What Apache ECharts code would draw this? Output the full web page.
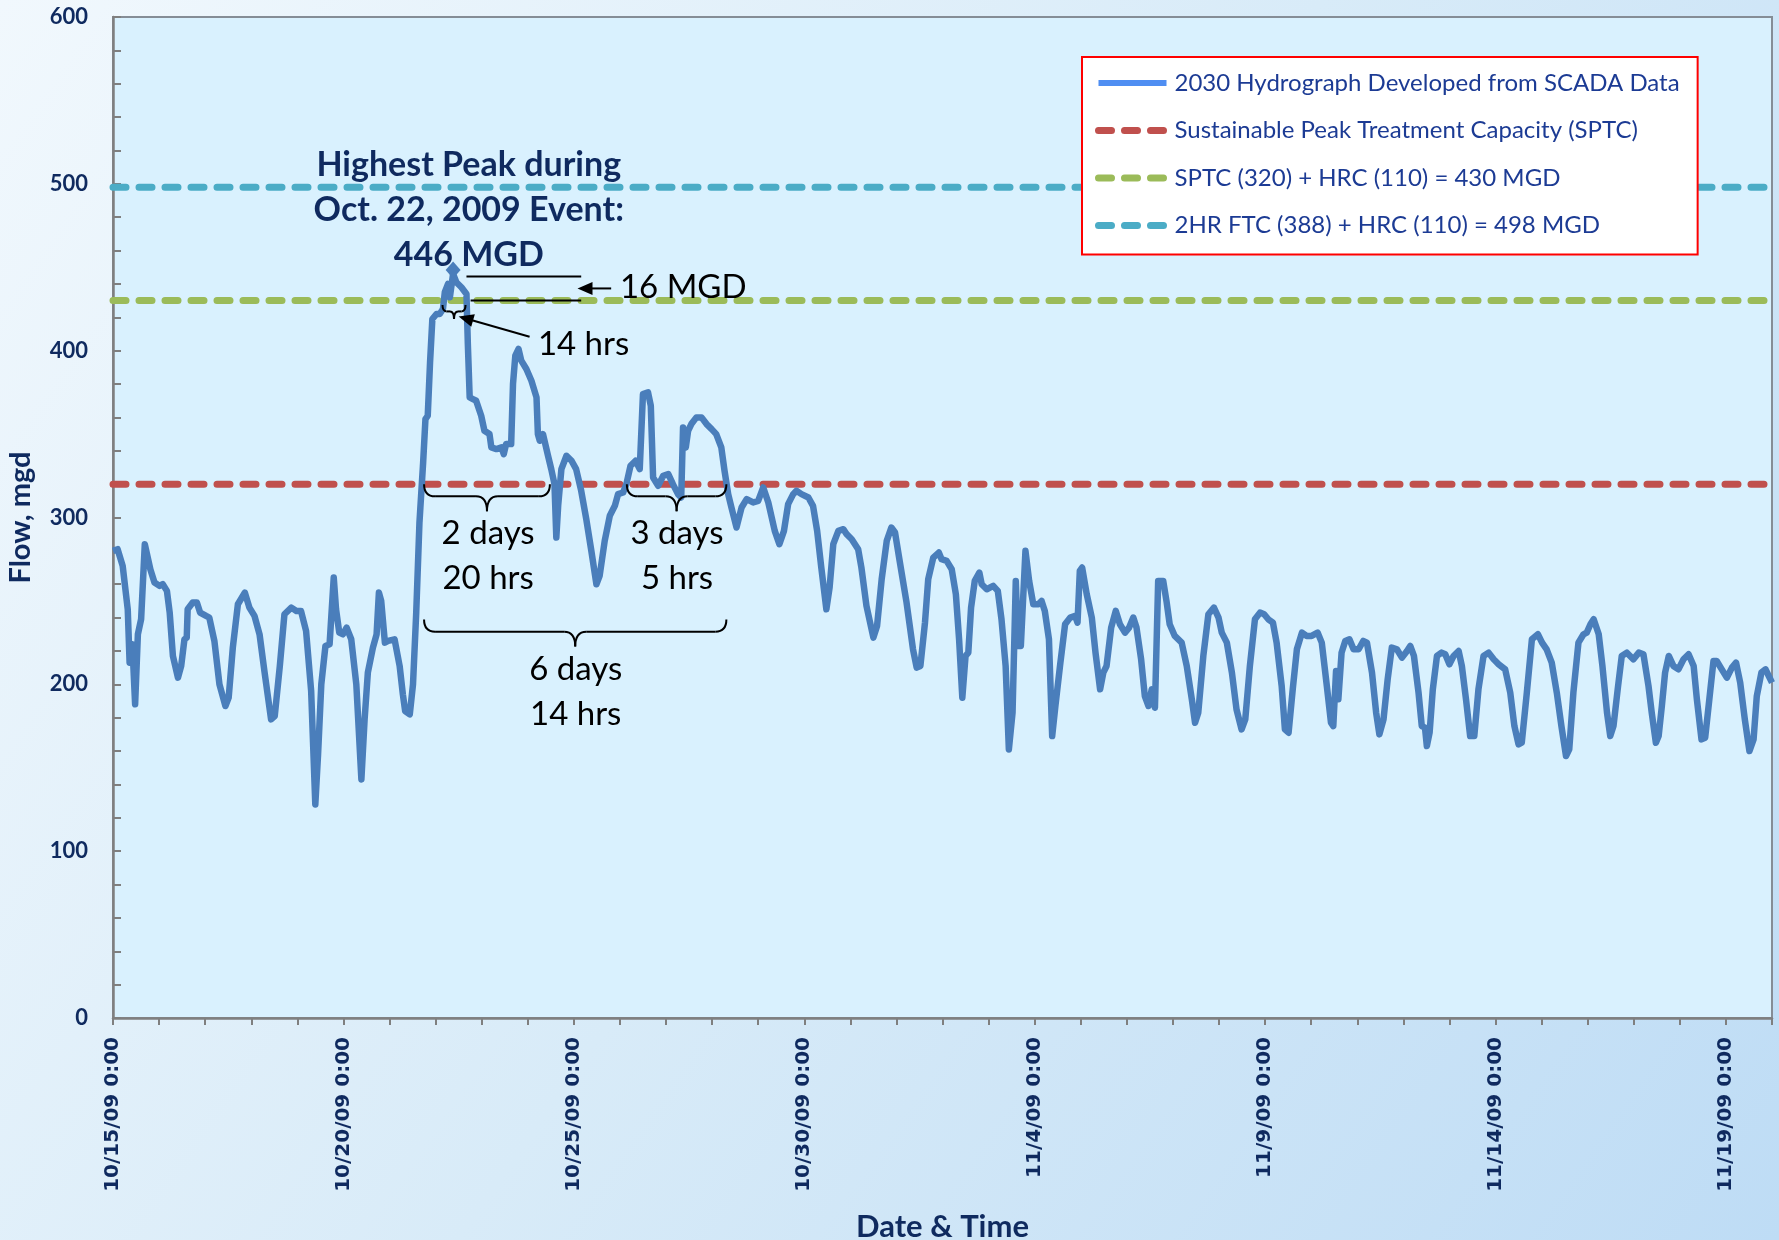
<!DOCTYPE html>
<html><head><meta charset="utf-8">
<script src="https://cdn.jsdelivr.net/npm/echarts/dist/echarts.min.js"></script>
<style>html,body{margin:0;padding:0;background:#fff}#c{width:1779px;height:1240px}</style>
</head><body><div id="c"></div>
<script>
// Time in days since 10/15/09 0:00
const days = [0.0,0.1,0.21,0.32,0.36,0.42,0.48,0.54,0.61,0.69,0.72,0.81,0.9,1.01,1.08,1.17,1.23,1.3,1.41,1.48,1.55,1.6,1.62,1.73,1.82,1.89,2.02,2.09,2.2,2.31,2.44,2.51,2.6,2.71,2.86,2.96,3.07,3.18,3.29,3.43,3.51,3.62,3.72,3.87,3.98,4.08,4.19,4.3,4.39,4.45,4.52,4.61,4.7,4.79,4.84,4.91,4.99,5.07,5.17,5.28,5.39,5.46,5.53,5.64,5.72,5.77,5.82,5.9,
5.97,6.11,6.22,6.29,6.34,6.44,6.51,6.58,6.65,6.73,6.78,6.83,6.88,6.93,7.02,7.09,7.16,7.2,7.27,7.31,7.38,7.45,7.56,7.67,7.7,7.74,7.81,7.88,7.99,8.06,8.17,8.21,8.32,8.43,8.48,8.53,8.64,8.68,8.73,8.8,8.86,8.97,9.08,9.19,9.22,9.26,9.33,9.44,9.51,9.58,9.62,9.66,9.73,9.84,9.95,10.05,10.16,10.27,10.38,10.49,10.56,10.67,10.78,10.89,10.96,11.07,11.14,11.23,11.34,11.43,11.5,11.61,11.67,11.72,11.83,11.94,12.05,12.15,12.26,12.33,12.37,12.43,12.48,12.55,12.66,12.77,12.88,12.99,13.09,13.2,13.27,13.35,13.42,13.53,13.64,13.75,13.89,14.0,14.11,14.22,14.36,14.46,14.56,14.65,14.76,14.83,14.94,15.09,15.19,15.28,15.37,15.48,15.55,15.63,15.74,15.85,15.92,16.03,16.17,16.24,16.35,16.5,16.58,16.68,16.79,16.89,16.97,17.07,17.22,17.36,17.44,17.52,17.62,17.69,17.8,
17.92,17.98,18.09,18.2,18.29,18.36,18.43,18.5,18.56,18.62,18.7,18.8,18.85,18.96,19.1,19.2,19.28,19.37,19.44,19.52,19.59,19.64,19.7,19.8,19.88,19.97,20.08,20.15,20.22,20.31,20.38,20.45,20.55,20.66,20.77,20.88,20.93,20.98,21.03,21.13,21.24,21.32,21.42,21.49,21.56,21.66,21.76,21.85,21.96,22.05,22.14,22.21,22.31,22.39,22.47,22.54,22.61,22.68,22.79,22.86,22.93,23.04,23.19,23.3,23.41,23.48,23.55,23.66,23.77,
23.89,23.99,24.06,24.17,24.28,24.38,24.49,24.57,24.67,24.78,24.89,24.98,25.07,25.17,25.25,25.36,25.43,25.51,25.6,25.69,25.8,25.9,26.01,26.14,26.23,26.34,26.43,26.48,26.54,26.59,26.66,26.74,26.83,26.92,27.03,27.13,27.21,27.32,27.41,27.48,27.57,27.66,27.75,27.86,27.97,28.08,28.15,28.23,28.33,28.4,28.47,28.51,28.57,28.64,28.73,28.83,28.91,29.0,29.09,29.2,29.27,29.36,29.45,29.54,29.63,29.74,
29.85,29.96,30.07,30.21,30.32,30.41,30.5,30.57,30.68,30.79,30.92,31.01,31.11,31.22,31.33,31.43,31.53,31.6,31.69,31.8,31.91,31.98,32.06,32.13,32.24,32.32,32.42,32.49,32.56,32.66,32.74,32.85,32.92,32.99,33.11,33.21,33.32,33.39,33.48,33.54,33.61,33.68,33.76,33.86,33.97,34.08,34.19,34.3,34.37,34.47,34.55,34.64,34.73,34.8,34.91,35.02,35.13,35.22,35.31,35.41,35.51,35.6,35.67,35.77,35.86,35.93,36.0];
const flow = [280,281,271,245,213,224,188,230,239,284,284,269,261,259,260,256,243,217,204,211,227,228,245,249,249,243,241,240,226,200,187,192,222,248,255,246,241,230,207,179,181,211,242,246,244,244,232,196,128,158,200,223,224,264,245,231,230,234,227,200,143,179,207,222,230,255,250,225,
226,227,211,194,184,182,200,243,297,333,359,361,393,419,422,422,425,435,440,432,446,441,438,434,404,372,371,370,361,352,350,342,341,342,338,344,344,380,397,401,394,389,382,372,350,346,350,337,329,320,288,307,329,337,334,329,316,299,280,260,265,286,301,307,314,315,320,331,334,329,374,375,367,324,319,325,326,320,314,312,354,342,352,356,360,360,356,353,350,342,328,314,306,294,306,311,309,310,318,309,292,284,292,308,314,316,314,312,307,292,270,245,258,284,292,293,290,287,281,270,247,228,235,263,286,294,291,274,249,221,210,211,237,263,276,
279,275,274,269,254,227,192,217,219,246,262,267,260,257,259,256,239,211,161,183,262,223,223,280,262,248,248,250,244,227,169,187,211,236,240,241,237,268,270,254,240,219,197,207,211,234,244,236,231,234,240,234,215,193,187,197,186,262,262,250,236,229,225,211,191,177,183,217,242,
246,240,231,225,207,185,173,179,211,239,243,242,239,237,225,199,173,171,197,221,231,229,229,231,225,199,177,175,208,191,219,226,227,221,221,226,225,207,183,170,179,203,222,221,216,220,223,217,195,175,174,163,171,197,217,219,218,212,217,220,211,191,169,169,197,217,
219,215,212,209,195,175,164,165,195,227,230,225,221,213,195,175,157,161,195,225,230,231,236,239,230,211,183,169,175,199,217,219,217,215,219,218,199,183,165,169,187,207,217,211,209,215,218,211,191,167,168,191,214,214,209,204,210,213,201,179,160,167,193,207,209,205,201];

const xTickLabels = ['10/15/09 0:00','10/20/09 0:00','10/25/09 0:00','10/30/09 0:00','11/4/09 0:00','11/9/09 0:00','11/14/09 0:00','11/19/09 0:00'];
const xRange = [0, 36];
const yRange = [0, 600];
const seriesNames = ['2030 Hydrograph Developed from SCADA Data','Sustainable Peak Treatment Capacity (SPTC)','SPTC (320) + HRC (110) = 430 MGD','2HR FTC (388) + HRC (110) = 498 MGD'];
const capacityLevels = [320, 430, 498];
const capacityColors = ['#c0504d', '#9bbb59', '#4bacc6'];

const NAVY = '#0f2a5f';
const chart = echarts.init(document.getElementById('c'), null, {renderer: 'canvas'});

const hydro = days.map((d, i) => [d, flow[i]]);
const levelSeries = capacityLevels.map((lv, i) => ({
  name: seriesNames[i + 1], type: 'line', symbol: 'none', silent: true, z: 2,
  data: [[xRange[0], lv], [xRange[1], lv]],
  lineStyle: {color: capacityColors[i], width: 7, type: [13, 13], cap: 'round'},
  itemStyle: {color: capacityColors[i]}
}));

const option = {
  animation: false,
  backgroundColor: new echarts.graphic.LinearGradient(0, 0, 1, 1, [
    {offset: 0, color: '#f1f8fd'}, {offset: 0.5, color: '#d8ebf8'}, {offset: 1, color: '#bedcf5'}]),
  grid: {left: 113, right: 7, top: 17, bottom: 222, show: true, backgroundColor: '#d9f1fe',
         borderColor: '#858d96', borderWidth: 2, containLabel: false, outerBoundsMode: 'none'},
  xAxis: {
    type: 'value', min: xRange[0], max: xRange[1], interval: 1,
    name: 'Date & Time', nameLocation: 'middle', nameGap: 193,
    nameTextStyle: {fontFamily: 'Lato', fontWeight: 'bold', fontSize: 31, color: NAVY},
    axisLine: {show: true, lineStyle: {color: '#7f7f7f', width: 2.5}},
    axisTick: {show: true, length: 7, lineStyle: {color: '#7f7f7f', width: 2}},
    axisLabel: {rotate: 90, margin: 19, fontFamily: 'DejaVu Sans', fontWeight: 'bold', fontSize: 20, color: NAVY,
      formatter: v => (Math.round(v) % 5 === 0 && Math.abs(v - Math.round(v)) < 1e-6 && xTickLabels[Math.round(v) / 5]) ? xTickLabels[Math.round(v) / 5] : ''},
    splitLine: {show: false}
  },
  yAxis: {
    type: 'value', min: yRange[0], max: yRange[1], interval: 100,
    name: 'Flow, mgd', nameLocation: 'middle', nameGap: 78,
    nameTextStyle: {fontFamily: 'Lato', fontWeight: 'bold', fontSize: 29, color: NAVY},
    axisLine: {show: true, lineStyle: {color: '#7f7f7f', width: 2.5}},
    axisTick: {show: true, inside: true, length: 8, lineStyle: {color: '#7f7f7f', width: 2}},
    minorTick: {show: true, splitNumber: 5, length: 8, lineStyle: {color: '#7f7f7f', width: 2}},
    axisLabel: {margin: 25, fontFamily: 'Lato', fontWeight: 'bold', fontSize: 22, color: NAVY},
    splitLine: {show: false}
  },
  legend: {
    orient: 'vertical', left: 1082, top: 57,
    padding: [14, 18, 17, 13], itemWidth: 68, itemHeight: 20, itemGap: 23.5,
    backgroundColor: '#ffffff', borderColor: '#ff0000', borderWidth: 2, borderRadius: 0,
    itemStyle: {opacity: 0},
    lineStyle: {width: 7, cap: 'round'},
    textStyle: {fontFamily: 'Lato', fontSize: 24, color: '#1c3b94', padding: [0, 0, 0, 3]},
    data: [
      {name: seriesNames[0], lineStyle: {color: '#4f8ef2', width: 6, cap: 'butt'}, itemStyle: {color: '#4f8ef2', opacity: 0}},
      seriesNames[1], seriesNames[2], seriesNames[3]
    ]
  },
  series: [
    {name: seriesNames[0], type: 'line', symbol: 'none', z: 3, data: hydro,
     lineStyle: {color: '#4a7ebb', width: 6.5, join: 'round'}, itemStyle: {color: '#4a7ebb'},
     markPoint: {symbol: 'diamond', symbolSize: [15, 17], symbolOffset: [0, -4], label: {show: false},
       itemStyle: {color: '#4a7ebb'}, data: [{type: 'max'}]}}
  ].concat(levelSeries)
};
chart.setOption(option);

// ---- annotations anchored in data coordinates ----
const P = (d, v) => chart.convertToPixel({gridIndex: 0}, [d, v]);
const blk = {stroke: '#000', lineWidth: 2, fill: 'none'};
const g = [];
function line(x1, y1, x2, y2, w) { g.push({type: 'line', z: 50, shape: {x1, y1, x2, y2}, style: {stroke: '#000', lineWidth: w || 2}}); }
function bez(x1, y1, x2, y2, cx, cy) { g.push({type: 'bezierCurve', z: 50, shape: {x1, y1, x2, y2, cpx1: cx, cpy1: cy}, style: blk}); }
function brace(d1, d2, vTop, h, r) {
  const a = P(d1, vTop), b = P(d2, vTop);
  const x1 = a[0], x2 = b[0], y0 = a[1], xm = (x1 + x2) / 2;
  const yh = y0 + h * 0.45, yt = y0 + h;
  bez(x1, y0, x1 + r, yh, x1, yh);
  line(x1 + r, yh, xm - r, yh);
  bez(xm - r, yh, xm, yt, xm, yh);
  bez(xm, yt, xm + r, yh, xm, yh);
  line(xm + r, yh, x2 - r, yh);
  bez(x2 - r, yh, x2, y0, x2, yh);
}
function arrow(fromD, fromV, toD, toV) {
  const a = P(fromD, fromV), b = P(toD, toV);
  const dx = b[0] - a[0], dy = b[1] - a[1], L = Math.hypot(dx, dy), ux = dx / L, uy = dy / L;
  const hl = 15, hw = 6.5;
  const bx = b[0] - ux * hl, by = b[1] - uy * hl;
  line(a[0], a[1], bx + ux * 2, by + uy * 2, 2);
  g.push({type: 'polygon', z: 50, shape: {points: [[b[0], b[1]], [bx - uy * hw, by + ux * hw], [bx + uy * hw, by - ux * hw]]}, style: {fill: '#000'}});
}
function text(d, v, str, opts) {
  const p = P(d, v);
  g.push({type: 'text', z: 60, x: p[0], y: p[1], style: Object.assign({text: str, fill: '#000', fontFamily: 'Lato', fontSize: 33,
    align: 'center', verticalAlign: 'middle', lineHeight: 45}, opts || {})});
}

// Title
text(7.72, 484.5, 'Highest Peak during\nOct. 22, 2009 Event:\n446 MGD', {fill: NAVY, fontWeight: 'bold', fontSize: 34, lineHeight: 45});
// 16 MGD difference lines
let a = P(7.67, 444.5), b = P(10.16, 444.5); line(a[0], a[1], b[0], b[1]);
a = P(7.76, 430); b = P(10.16, 430); line(a[0], a[1], b[0], b[1]);
arrow(10.81, 437.3, 10.08, 437.3);
text(11.0, 438, '16 MGD', {align: 'left'});
// 14 hrs
brace(7.15, 7.65, 427.3, 14, 4);
arrow(9.04, 408.3, 7.5, 420.5);
text(9.22, 404, '14 hrs', {align: 'left'});
// Duration braces
brace(6.75, 9.48, 320, 27, 11);
brace(11.15, 13.31, 320, 27, 11);
brace(6.75, 13.31, 238.8, 27, 11);
text(8.14, 277, '2 days\n20 hrs');
text(12.24, 277, '3 days\n5 hrs');
text(10.04, 195.5, '6 days\n14 hrs');

chart.setOption({graphic: g});
</script></body></html>
